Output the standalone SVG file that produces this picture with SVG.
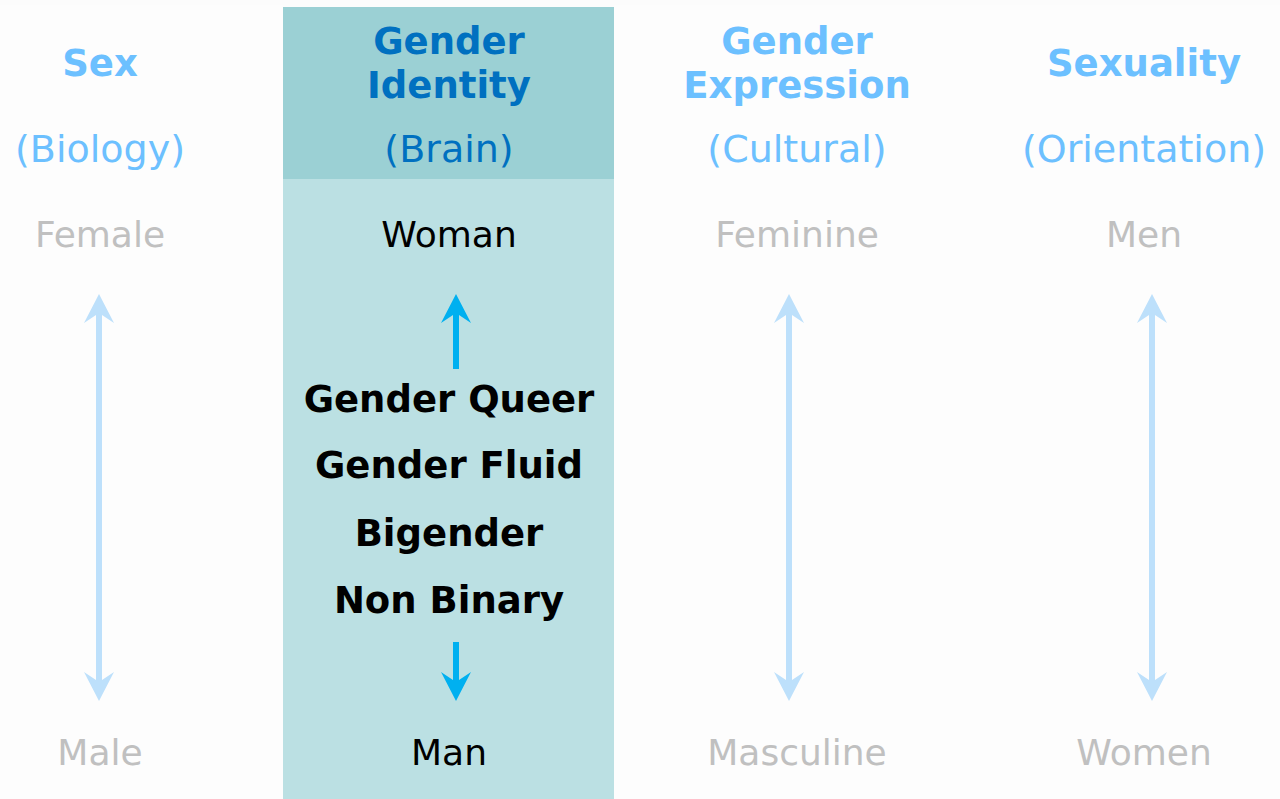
<svg xmlns="http://www.w3.org/2000/svg" width="1280" height="799" viewBox="0 0 1280 799">
  <style>
    text { font-family: "DejaVu Sans", Verdana, sans-serif; text-anchor: middle; }
    .head { font-size: 37px; font-weight: bold; fill: #6cc0ff; }
    .head-on { font-size: 37px; font-weight: bold; fill: #0070c0; }
    .sub { font-size: 38px; fill: #6cc0ff; }
    .sub-on { font-size: 38px; fill: #0070c0; }
    .end { font-size: 36px; fill: #c0c0c0; }
    .end-on { font-size: 36px; fill: #000000; }
    .term { font-size: 37px; font-weight: bold; fill: #000000; }
    .shaft-light { stroke: #bde0fb; stroke-width: 6; fill: none; }
    .shaft-strong { stroke: #00b0f0; stroke-width: 6; fill: none; }
  </style>
  <defs>
    <marker id="head-light" markerUnits="userSpaceOnUse" viewBox="-1 -16 31 32" markerWidth="31" markerHeight="32" refX="10" refY="0" orient="auto-start-reverse">
      <path d="M29,0 L0,-15 L10,0 L0,15 Z" fill="#bde0fb"/>
    </marker>
    <marker id="head-strong" markerUnits="userSpaceOnUse" viewBox="-1 -16 31 32" markerWidth="31" markerHeight="32" refX="10" refY="0" orient="auto">
      <path d="M29,0 L0,-15 L10,0 L0,15 Z" fill="#00b0f0"/>
    </marker>
  </defs>

  <!-- page and faint column panels -->
  <rect x="0" y="0" width="1280" height="799" fill="#fcfcfc"/>
  <rect x="0" y="5" width="283" height="794" fill="#fdfdfd"/>
  <rect x="614" y="5" width="349" height="794" fill="#fdfdfd"/>
  <rect x="963" y="5" width="317" height="794" fill="#fdfdfd"/>

  <g id="col-sex">
    <text class="head" x="100" y="76">Sex</text>
    <text class="sub" x="100" y="162">(Biology)</text>
    <text class="end" x="100" y="247">Female</text>
    <text class="end" x="100" y="765">Male</text>
  </g>

  <g id="col-identity">
    <rect x="283" y="7" width="331" height="172" fill="#9bd0d4"/>
    <rect x="283" y="179" width="331" height="620" fill="#bbe0e3"/>
    <text class="head-on" x="449" y="54">Gender</text>
    <text class="head-on" x="449" y="98">Identity</text>
    <text class="sub-on" x="449" y="162">(Brain)</text>
    <text class="end-on" x="449" y="247">Woman</text>
    <text class="term" x="449" y="412">Gender Queer</text>
    <text class="term" x="449" y="478">Gender Fluid</text>
    <text class="term" x="449" y="546">Bigender</text>
    <text class="term" x="449" y="613">Non Binary</text>
    <text class="end-on" x="449" y="765">Man</text>
  </g>

  <g id="col-expression">
    <text class="head" x="797" y="54">Gender</text>
    <text class="head" x="797" y="98">Expression</text>
    <text class="sub" x="797" y="162">(Cultural)</text>
    <text class="end" x="797" y="247">Feminine</text>
    <text class="end" x="797" y="765">Masculine</text>
  </g>

  <g id="col-sexuality">
    <text class="head" x="1144" y="76">Sexuality</text>
    <text class="sub" x="1144" y="162">(Orientation)</text>
    <text class="end" x="1144" y="247">Men</text>
    <text class="end" x="1144" y="765">Women</text>
  </g>

  <g id="connectors">
    <path class="shaft-light" d="M99,313 V682" marker-start="url(#head-light)" marker-end="url(#head-light)"/>
    <path class="shaft-light" d="M789,313 V682" marker-start="url(#head-light)" marker-end="url(#head-light)"/>
    <path class="shaft-light" d="M1152,313 V682" marker-start="url(#head-light)" marker-end="url(#head-light)"/>
    <path class="shaft-strong" d="M456,369 V313" marker-end="url(#head-strong)"/>
    <path class="shaft-strong" d="M456,642 V682" marker-end="url(#head-strong)"/>
  </g>
</svg>
